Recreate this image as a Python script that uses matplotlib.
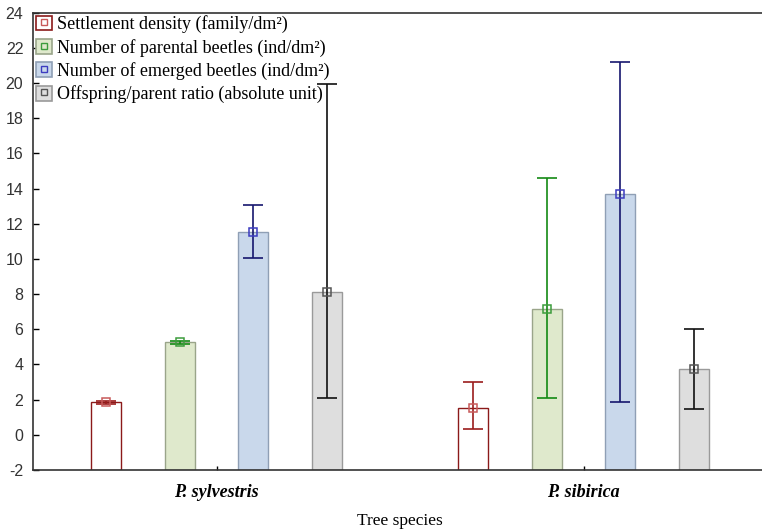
import matplotlib
matplotlib.use('Agg')
import matplotlib.pyplot as plt
from matplotlib.patches import Patch
from matplotlib.lines import Line2D
import numpy as np

plt.rcParams['axes.unicode_minus'] = False

# data
species = ['P. sylvestris', 'P. sibirica']
series = ['Settlement density (family/dm²)',
          'Number of parental beetles (ind/dm²)',
          'Number of emerged beetles (ind/dm²)',
          'Offspring/parent ratio (absolute unit)']
means = [[1.85, 1.52],
         [5.26, 7.17],
         [11.55, 13.71],
         [8.14, 3.74]]
lower = [[1.75, 0.33],
         [5.16, 2.09],
         [10.03, 1.85],
         [2.09, 1.45]]
upper = [[1.95, 3.02],
         [5.36, 14.58],
         [13.06, 21.18],
         [19.94, 6.03]]
y_min = -2

# styles
fills = ['white', '#dfe9cc', '#c9d8eb', '#dedede']
edges = ['#8b1a1a', '#9aa58a', '#8f9fb5', '#9a9a9a']
err_cols = ['#9b1c1c', '#148a14', '#16166e', '#111111']
mk_cols = ['#c85a5a', '#3c9c3c', '#3c3cc0', '#555555']
offsets = [-0.3, -0.1, 0.1, 0.3]
width = 0.082

fig = plt.figure(figsize=(7.62, 5.29), dpi=100)
ax = fig.add_axes([33 / 762, 1 - 470 / 529, 734 / 762, (470 - 12.7) / 529])

x = np.arange(len(species))
for i in range(4):
    m = np.array(means[i])
    lo = m - np.array(lower[i])
    hi = np.array(upper[i]) - m
    # bars are drawn up from the bottom of the axis
    ax.bar(x + offsets[i], m - y_min, width, bottom=y_min, color=fills[i],
           edgecolor=edges[i], linewidth=1.0, zorder=2)
    ax.errorbar(x + offsets[i], m, yerr=[lo, hi], fmt='none', ecolor=err_cols[i],
                elinewidth=1.2, capsize=7, capthick=1.2, zorder=3)
    ax.plot(x + offsets[i], m, 's', ms=6, mfc='none', mec=mk_cols[i], mew=1.1, zorder=4)

ax.set_xlim(-0.5, 1.5)
ax.set_ylim(y_min, 24)
ax.set_yticks(np.arange(-2, 25, 2))
ax.set_xticks(x)
ax.set_xticklabels(species, family='Liberation Serif', fontsize=13,
                   fontweight='bold', fontstyle='italic')
for lab in ax.get_yticklabels():
    lab.set_family('Liberation Sans')
    lab.set_fontsize(11.5)
    lab.set_color('#333333')
ax.tick_params(axis='y', direction='in', length=4, width=1, pad=7)
ax.tick_params(axis='x', direction='in', length=3, width=1, pad=10)
ax.spines['right'].set_visible(False)
for s in ['left', 'bottom', 'top']:
    ax.spines[s].set_color('#333333')
    ax.spines[s].set_linewidth(1.2)

ax.set_xlabel('Tree species', family='Liberation Serif', fontsize=12.5, labelpad=9)

handles = []
for i in range(4):
    p = Patch(facecolor=fills[i], edgecolor=edges[i], linewidth=1.2)
    l = Line2D([], [], ls='none', marker='s', ms=5, mfc='none', mec=mk_cols[i], mew=1)
    handles.append((p, l))
ax.legend(handles, series, loc='upper left', bbox_to_anchor=(-0.006, 1.01),
          frameon=False, prop={'family': 'Liberation Serif', 'size': 13},
          handlelength=0.9, handleheight=0.9, handletextpad=0.25,
          labelspacing=0.3, borderaxespad=0.2, borderpad=0.2)

fig.savefig('out.png', dpi=100)
